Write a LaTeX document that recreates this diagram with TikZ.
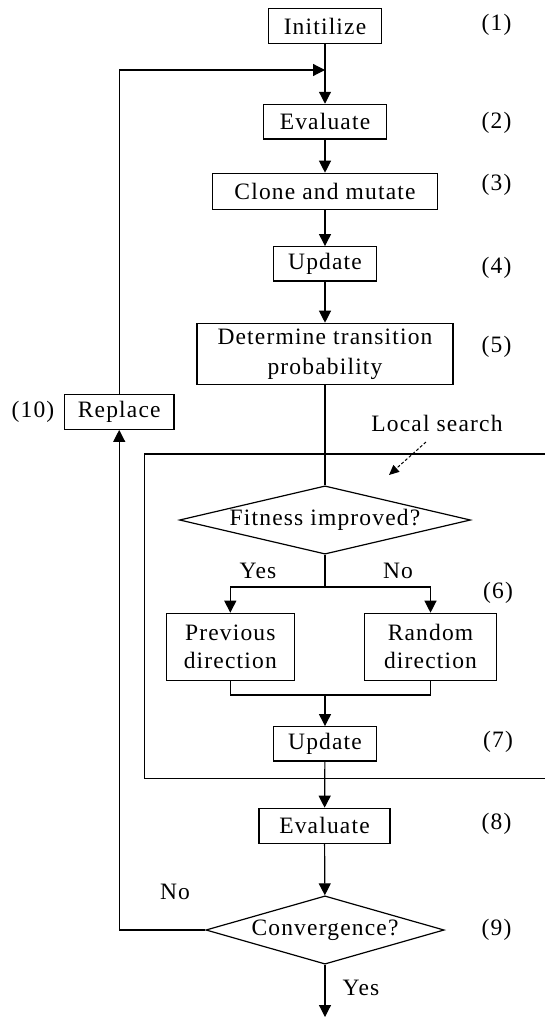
\documentclass[tikz,border=0pt]{standalone}
\usepackage{fontspec}
\setmainfont{Liberation Serif}[LetterSpace=5]
\usetikzlibrary{arrows.meta,shapes.geometric}
\begin{document}
\begin{tikzpicture}[x=1pt,y=-1pt,
  every node/.style={font=\fontsize{23.5}{29}\selectfont},
  box/.style={draw,line width=1.2pt,inner sep=0pt,align=center},
  dia/.style={draw,line width=1.2pt,diamond,inner sep=0pt,shape aspect=4.26},
  conn/.style={line width=1.2pt},
  arr/.style={line width=1.2pt,-{Triangle[length=12pt,width=12pt]}},
  tag/.style={inner sep=0pt}]
\useasboundingbox (0,0) rectangle (545,1020);
% boxes
\node[box,minimum width=113.4pt,minimum height=35pt] (init) at (325,26) {Initilize};
\node[box,minimum width=123.4pt,minimum height=34.7pt] (eval1) at (325,121.7) {Evaluate};
\node[box,minimum width=225.4pt,minimum height=36pt] (clone) at (325,191.3) {Clone and mutate};
\node[box,minimum width=103.7pt,minimum height=34.3pt] (upd1) at (325,263.8) {Update};
\node[box,minimum width=256pt,minimum height=61.4pt,font=\fontsize{23.5}{30}\selectfont] (det) at (325,354) {Determine transition\\probability};
\node[box,minimum width=109.7pt,minimum height=35pt] (repl) at (119.2,411.8) {Replace};
\node[dia,minimum width=291pt,minimum height=68.3pt] (fit) at (325,520) {Fitness improved?};
\node[box,minimum width=128pt,minimum height=67pt,font=\fontsize{23.5}{28.3}\selectfont] (prev) at (230.3,646.8) {Previous\\direction};
\node[box,minimum width=132.4pt,minimum height=67pt,font=\fontsize{23.5}{28.3}\selectfont] (rand) at (430.5,646.8) {Random\\direction};
\node[box,minimum width=103.6pt,minimum height=34.3pt] (upd2) at (325,743.8) {Update};
\node[box,minimum width=131pt,minimum height=35pt] (eval2) at (324.5,825.8) {Evaluate};
\node[dia,minimum width=238.3pt,minimum height=68.3pt,shape aspect=3.49] (conv) at (325,930) {Convergence?};
% local search frame
\draw[conn] (545,454) -- (144.3,454) -- (144.3,778.3) -- (545,778.3);
\node[tag] (ls) at (437,423) {Local search};
\coordinate (lsa) at (426,442);
\coordinate (lsb) at (389,475);
\draw[line width=1pt,dash pattern=on 3pt off 2pt,-{Triangle[length=10pt,width=9pt]}] (lsa) -- (lsb);
% coordinates
\coordinate (loopin) at (325,70);
\coordinate (branch) at (325,587);
\coordinate (merge) at (325,695);
\coordinate (endpt) at (325,1017);
% connectors
\draw[conn] (init) -- (loopin);
\draw[arr] (loopin) -- (eval1);
\draw[arr] (repl.north) |- (loopin);
\draw[arr] (eval1) -- (clone);
\draw[arr] (clone) -- (upd1);
\draw[arr] (upd1) -- (det);
\draw[conn] (det) -- (fit);
\draw[conn] (fit.south) -- (branch);
\draw[arr] (branch) -| (prev.north);
\draw[arr] (branch) -| (rand.north);
\draw[conn] (prev.south) |- (merge) -| (rand.south);
\draw[arr] (merge) -- (upd2);
\draw[arr] (upd2) -- (eval2);
\draw[arr] (eval2) -- (conv);
\draw[arr] (conv.west) -| (repl.south);
\draw[arr] (conv.south) -- (endpt);
% branch labels
\node[tag] (y1) at (258,570.7) {Yes};
\node[tag] (n1) at (398,570.7) {No};
\node[tag] (n2) at (175,891.7) {No};
\node[tag] (y2) at (361,988.3) {Yes};
% step numbers
\node[tag] (s1) at (496.5,25) {(1)};
\node[tag] (s2) at (496.5,123.3) {(2)};
\node[tag] (s3) at (496.5,185) {(3)};
\node[tag] (s4) at (496.5,268.3) {(4)};
\node[tag] (s5) at (496.5,346.7) {(5)};
\node[tag] (s6) at (498,593) {(6)};
\node[tag] (s7) at (498,741.7) {(7)};
\node[tag] (s8) at (496.5,824) {(8)};
\node[tag] (s9) at (496.5,930) {(9)};
\node[tag] (s10) at (33,412) {(10)};
\end{tikzpicture}
\end{document}
